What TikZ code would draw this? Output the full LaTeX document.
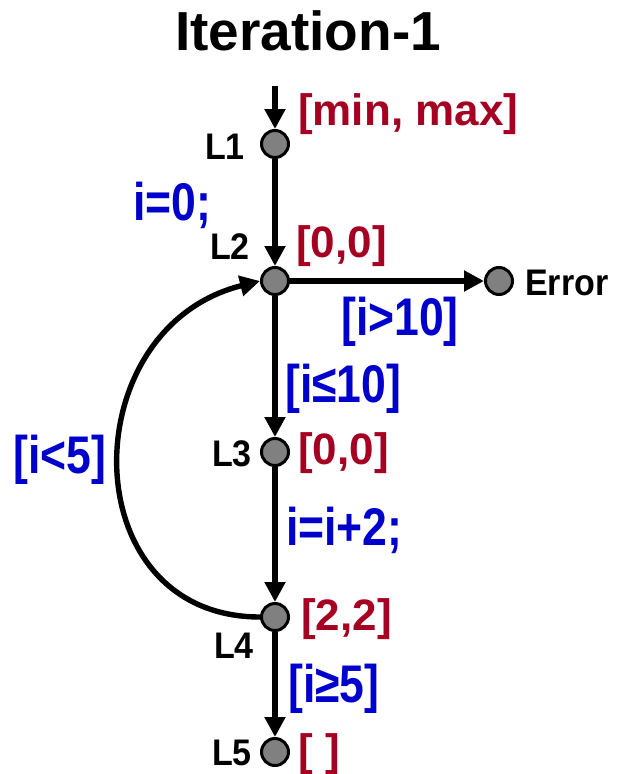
\documentclass[tikz,border=0pt]{standalone}
\usepackage{fontspec}
\setmainfont{Liberation Sans}
\newfontfamily\narrowfont{Liberation Sans}[FakeStretch=0.84]
\newfontfamily\blackfont{Liberation Sans}[FakeStretch=0.92]
\usetikzlibrary{arrows.meta}
\definecolor{redlbl}{HTML}{A50021}
\definecolor{bluelbl}{HTML}{0000CC}
\definecolor{nodegray}{HTML}{808080}
\begin{document}
\begin{tikzpicture}[x=1pt,y=-1pt,
  loc/.style={circle,draw=black,line width=3pt,fill=nodegray,minimum size=27pt,inner sep=0pt},
  arr/.style={line width=5.4pt,-{Triangle[length=20pt,width=20pt]}},
  txt/.style={inner sep=0pt,font=\blackfont\fontsize{37}{37}\selectfont\bfseries},
  red/.style={inner sep=0pt,text=redlbl,font=\fontsize{44}{44}\selectfont\bfseries},
  blu/.style={inner sep=0pt,text=bluelbl,font=\narrowfont\fontsize{53}{53}\selectfont\bfseries},
  ttl/.style={inner sep=0pt,font=\fontsize{55}{55}\selectfont\bfseries}]
\useasboundingbox (0,0) rectangle (618,774);
% title
\node[ttl,anchor=base] (title) at (308,50) {Iteration-1};
% locations
\coordinate (in) at (275,86);
\node[loc] (L1) at (275,144) {};
\node[loc] (L2) at (275,281) {};
\node[loc] (Err) at (499,281) {};
\node[loc] (L3) at (275,452) {};
\node[loc] (L4) at (275,617) {};
\node[loc] (L5) at (275,752) {};
% edges
\draw[arr] (in) -- (L1);
\draw[arr] (L1) -- (L2);
\draw[arr] (L2) -- (Err);
\draw[arr] (L2) -- (L3);
\draw[arr] (L3) -- (L4);
\draw[arr] (L4) -- (L5);
\draw[arr] (L4.west) .. controls (72,617) and (72,328) .. (L2.west);
% location names
\node[txt,anchor=base east] (n1) at (245,159) {L1};
\node[txt,anchor=base east] (n2) at (250,259) {L2};
\node[txt,anchor=base east] (n3) at (252,466) {L3};
\node[txt,anchor=base east] (n4) at (254,658) {L4};
\node[txt,anchor=base east] (n5) at (252,765) {L5};
\node[txt,anchor=base west] (nerr) at (525,295) {Error};
% intervals
\node[red,anchor=base west] (v1) at (298,125) {[min, max]};
\node[red,anchor=base west] (v2) at (296,257) {[0,0]};
\node[red,anchor=base west] (v3) at (298,464) {[0,0]};
\node[red,anchor=base west] (v4) at (301,630) {[2,2]};
\node[red,anchor=base west] (v5) at (298,765) {[ ]};
% guards and statements
\node[blu,anchor=base west] (s1) at (133,220) {i=0;};
\node[blu,anchor=base west] (g1) at (341,335) {[i>10]};
\node[blu,anchor=base west] (g2) at (285,402) {[i≤10]};
\node[blu,anchor=base west] (g3) at (13,473) {[i<5]};
\node[blu,anchor=base west] (s2) at (286,545) {i=i+2;};
\node[blu,anchor=base west] (g4) at (288,702) {[i≥5]};
\end{tikzpicture}
\end{document}
